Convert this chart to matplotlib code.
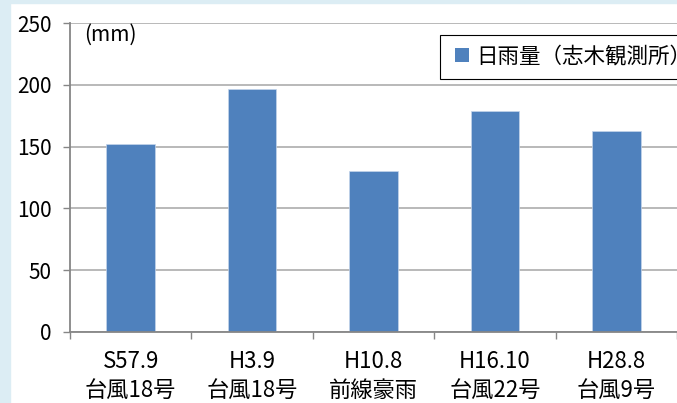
import matplotlib
matplotlib.use("Agg")
import matplotlib.pyplot as plt
from matplotlib.lines import Line2D
from matplotlib.patches import Rectangle

plt.rcParams['font.family'] = ['Noto Sans CJK JP', 'DejaVu Sans']

# 日雨量 (mm)
events = ["S57.9\n台風18号", "H3.9\n台風18号", "H10.8\n前線豪雨", "H16.10\n台風22号", "H28.8\n台風9号"]
rain = [152, 197, 130, 179, 163]
yticks = [0, 50, 100, 150, 200, 250]
legend_label = "日雨量（志木観測所）"

fig = plt.figure(figsize=(6.77, 4.03), dpi=100, facecolor="white")

# light blue frame on the left and top
fig.patches.append(Rectangle((0, 0), 10/677, 1, transform=fig.transFigure,
                             color="#dcedf4", zorder=0))
fig.patches.append(Rectangle((0, 1-3/403), 1, 3/403, transform=fig.transFigure,
                             color="#dcedf4", zorder=0))

ax = fig.add_axes([70/677, 71/403, 607/677, 309/403])
ax.set_facecolor("none")

x = list(range(len(events)))
ax.bar(x, rain, width=0.4, color="#4f81bd", edgecolor="#c5d5ea", linewidth=0.5, zorder=3)

ax.set_xlim(-0.5, len(events) - 0.5)
ax.set_ylim(0, 250)
ax.set_yticks(yticks)
ax.set_yticklabels([str(v) for v in yticks])
ax.grid(axis="y", color="#a6a6a6", linewidth=1.1, zorder=1)
ax.set_axisbelow(True)

# category boundaries as major ticks, labels on minor ticks
ax.set_xticks([i - 0.5 for i in range(len(events) + 1)])
ax.set_xticklabels([])
ax.set_xticks(x, minor=True)
ax.set_xticklabels(events, minor=True, fontsize=16, linespacing=1.32)
ax.tick_params(axis="x", which="major", length=5, width=1, color="#868686", direction="out")
ax.tick_params(axis="x", which="minor", length=0, pad=13)
ax.tick_params(axis="y", length=5, width=1, color="#868686", labelsize=15, pad=8)

for s in ["top", "right"]:
    ax.spines[s].set_visible(False)
for s in ["left", "bottom"]:
    ax.spines[s].set_color("#868686")
    ax.spines[s].set_linewidth(1.3)
ax.spines["bottom"].set_zorder(4)

fig.text(84/677, 1 - 35/403, "(mm)", fontsize=15, va="center", ha="left")

handle = Line2D([], [], linestyle="none", marker="s", markersize=10,
                markerfacecolor="#4f81bd", markeredgewidth=0)
leg = fig.legend(handles=[handle], labels=[legend_label],
                 loc="upper left", bbox_to_anchor=(440/677, 1 - 35/403),
                 fontsize=15.5, frameon=True, fancybox=False, framealpha=1,
                 edgecolor="black", borderpad=0.5, handlelength=1.0,
                 handletextpad=0.2, borderaxespad=0)
leg.get_frame().set_linewidth(0.8)

fig.savefig("out.png", dpi=100)
